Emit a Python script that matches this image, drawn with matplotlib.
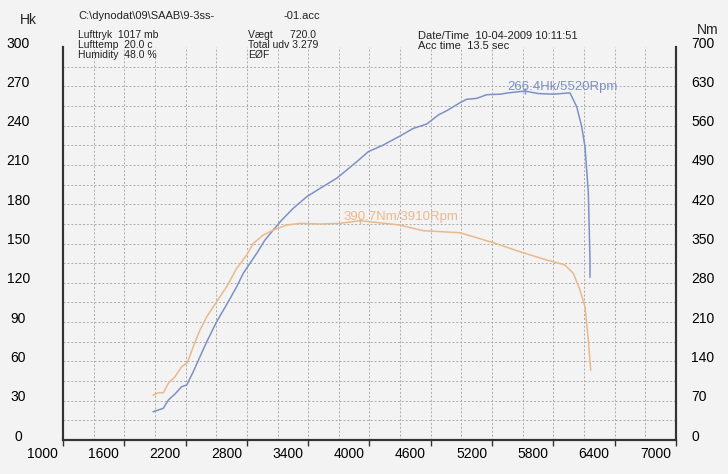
import matplotlib.pyplot as plt
from matplotlib.transforms import ScaledTranslation

# dyno run
rpm_hk = [1884, 1982, 2031, 2096, 2162, 2211, 2275, 2341, 2407, 2504, 2618, 2700,
          2765, 2830, 2896, 2977, 3058, 3141, 3254, 3385, 3516, 3679, 3777, 3875,
          3988, 4135, 4299, 4429, 4560, 4673, 4756, 4886, 4951, 5049, 5147, 5277,
          5359, 5520, 5650, 5799, 5962, 6028, 6077, 6109, 6142, 6158, 6158]
hk = [21.6, 24.2, 30.5, 35.1, 40.7, 42.0, 52.1, 63.6, 75.0, 90.3, 105.6, 117.0,
      127.3, 134.9, 142.5, 152.7, 160.3, 167.9, 176.9, 185.7, 192.1, 199.8, 206.1, 212.4,
      220.1, 225.2, 232.1, 237.9, 241.2, 248.1, 251.4, 257.5, 260.1, 260.8, 263.6, 264.0,
      265.0, 266.4, 264.5, 264.0, 265.0, 254.4, 239.2, 223.9, 188.5, 137.4, 124.4]

rpm_nm = [1884, 1933, 1982, 2031, 2096, 2162, 2217, 2275, 2341, 2407, 2504, 2602,
          2700, 2798, 2863, 2961, 3058, 3190, 3320, 3516, 3711, 3910, 4299, 4363,
          4527, 4886, 5212, 5473, 5734, 5799, 5913, 5995, 6060, 6109, 6142, 6165]
nm = [80.1, 84.2, 84.2, 101.0, 112.7, 130.5, 137.7, 166.2, 195.9, 219.6, 246.3, 273.0,
      305.8, 329.5, 350.3, 365.1, 374.0, 382.9, 385.9, 384.7, 385.9, 390.7, 382.9, 379.9,
      372.8, 369.2, 351.4, 335.4, 320.6, 317.6, 311.7, 296.9, 267.2, 237.4, 178.1, 124.7]

peak_hk = (5520, 266.4)
peak_nm = (3910, 390.7)

x_ticks = [1000, 1600, 2200, 2800, 3400, 4000, 4600, 5200, 5800, 6400, 7000]
hk_ticks = [0, 30, 60, 90, 120, 150, 180, 210, 240, 270, 300]
nm_ticks = [0, 70, 140, 210, 280, 350, 420, 490, 560, 630, 700]

blue = '#7d91c6'
orange = '#e9b98c'
bg = '#f3f3f3'
plt.rcParams['font.family'] = ['Liberation Sans Narrow', 'Liberation Sans', 'DejaVu Sans']

fig = plt.figure(figsize=(7.28, 4.74), dpi=100, facecolor=bg)
ax = fig.add_axes([0.0865, 0.0717, 0.8421, 0.8291], facecolor=bg)
ax2 = ax.twinx()

# dotted grid
for r in range(1300, 7000, 300):
    ax.axvline(r, color='#aaaaaa', ls=(0, (2, 2)), lw=0.7, zorder=0)
for h in range(15, 300, 15):
    ax.axhline(h, color='#aaaaaa', ls=(0, (2, 2)), lw=0.7, zorder=0)

ax.plot(rpm_hk, hk, color=blue, lw=1.1)
ax2.plot(rpm_nm, nm, color=orange, lw=1.1)
ax.plot(*peak_hk, marker='|', color=blue, ms=5, mew=1)
ax2.plot(*peak_nm, marker='|', color=orange, ms=5, mew=1)

ax.annotate('%.1fHk/%dRpm' % (peak_hk[1], peak_hk[0]), peak_hk, xytext=(-17, 4),
            textcoords='offset pixels', ha='left', va='center', color=blue, fontsize=9.5)
ax2.annotate('%.1fNm/%dRpm' % (peak_nm[1], peak_nm[0]), peak_nm, xytext=(-17, 4),
             textcoords='offset pixels', ha='left', va='center', color=orange, fontsize=9.5)

ax.set_xlim(1000, 7000)
ax.set_ylim(0, 300)
ax2.set_ylim(0, 700)
ax.set_xticks(x_ticks)
ax.set_yticks(hk_ticks)
ax2.set_yticks(nm_ticks)

for a in (ax, ax2):
    a.spines['top'].set_visible(False)
    for s in ('left', 'right', 'bottom'):
        a.spines[s].set_linewidth(1.5)
        a.spines[s].set_color('#333333')

ax.tick_params(axis='x', length=4, width=1, color='#333333', labelsize=10, pad=1)
ax.tick_params(axis='y', length=0, labelsize=10, pad=25)
ax2.tick_params(axis='y', length=0, labelsize=10, pad=11)
for lab in ax.get_yticklabels():
    lab.set_horizontalalignment('center')
    lab.set_transform(lab.get_transform() + ScaledTranslation(-0.1, 0.05, fig.dpi_scale_trans))
for lab in ax2.get_yticklabels():
    lab.set_transform(lab.get_transform() + ScaledTranslation(0, 0.05, fig.dpi_scale_trans))
for lab in ax.get_xticklabels():
    lab.set_horizontalalignment('right')
    lab.set_transform(lab.get_transform() + ScaledTranslation(-0.05, 0, fig.dpi_scale_trans))

# header text
def px(x, y, s, size=7.5, **kw):
    fig.text(x / 728, 1 - y / 474, s, fontsize=size, va='center', ha='left', color='#222222', **kw)

px(20, 20, 'Hk', size=10)
px(697, 30, 'Nm', size=10)
px(78, 16, 'C:\\dynodat\\09\\SAAB\\9-3ss-', size=8)
px(283, 16, '-01.acc', size=8)
px(78, 35, 'Lufttryk  1017 mb')
px(78, 45, 'Lufttemp  20.0 c')
px(78, 55, 'Humidity  48.0 %')
px(248, 35, 'Vægt      720.0')
px(248, 45, 'Total udv 3.279')
px(248, 55, 'EØF')
px(418, 36, 'Date/Time  10-04-2009 10:11:51', size=8)
px(418, 46, 'Acc time  13.5 sec', size=8)

fig.savefig('out.png', dpi=100, facecolor=bg)
